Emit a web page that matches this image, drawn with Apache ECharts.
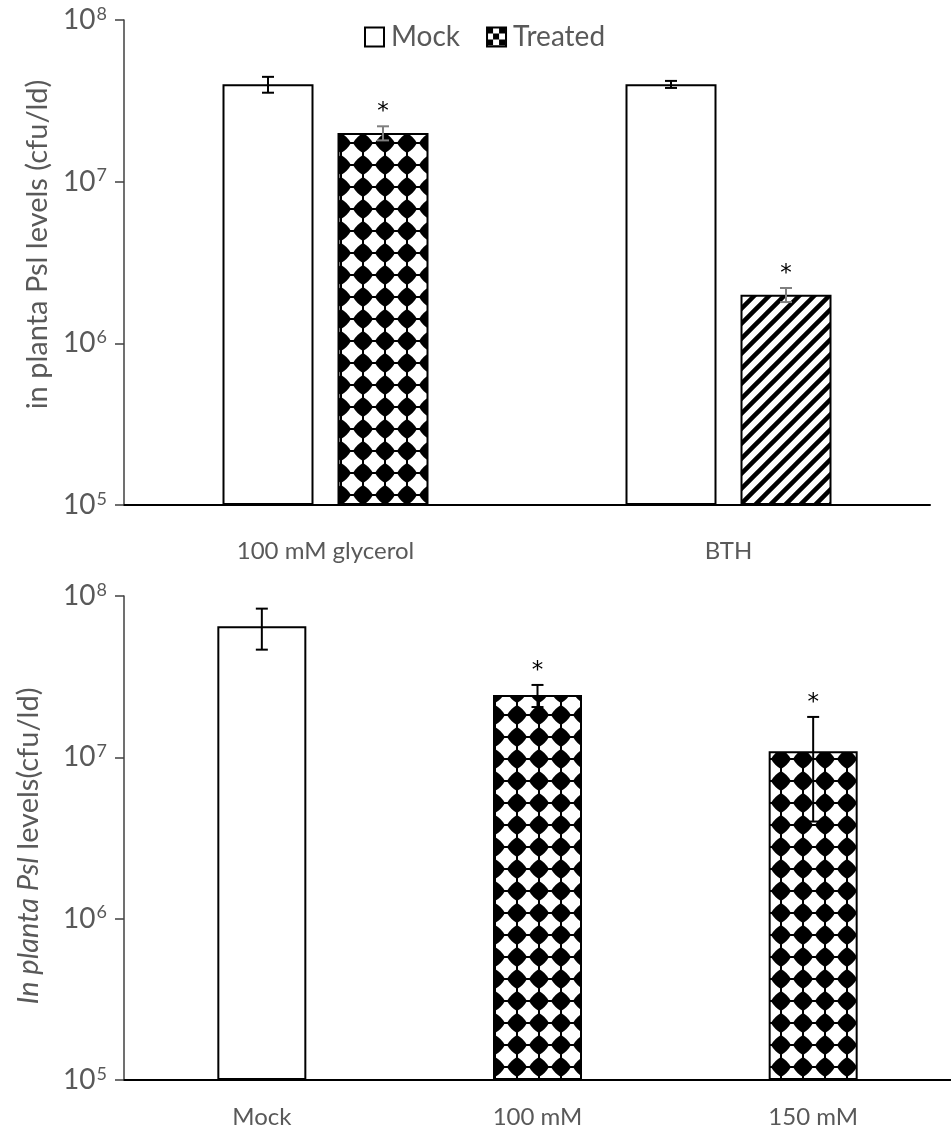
<!DOCTYPE html>
<html>
<head>
<meta charset="utf-8">
<script src="https://cdn.jsdelivr.net/npm/echarts@6/dist/echarts.min.js"></script>
<style>
html,body{margin:0;padding:0;background:#fff;}
#chart{width:951px;height:1137px;}
</style>
</head>
<body>
<div id="chart"></div>
<script>
// ---------- data ----------
const topCategories = ['100 mM glycerol', 'BTH'];
const legendNames = ['Mock', 'Treated'];
const mockValues = [4.0e7, 4.0e7];
const mockErrors = [4.5e6, 2.0e6];
const treatedValues = [2.0e7, 2.0e6];
const treatedErrors = [2.0e6, 2.0e5];
const treatedSignificant = [1, 1];
const bottomCategories = ['Mock', '100 mM', '150 mM'];
const bottomValues = [6.5e7, 2.43e7, 1.09e7];
const bottomErrors = [1.85e7, 3.8e6, 6.9e6];
const bottomSignificant = [0, 1, 1];
const yMin = 1e5;
const yMax = 1e8;
const topYTitle = 'in planta Psl levels (cfu/ld)';
const bottomYTitleItalic = 'In planta Psl';
const bottomYTitleRest = ' levels(cfu/ld)';

// ---------- patterns ----------
function makeCanvas(w, h) {
  const c = document.createElement('canvas');
  c.width = w; c.height = h;
  return c;
}
function diamondPattern() {
  const s = 22, m = 11, r = 10, b = 6.4, c = makeCanvas(s, s), g = c.getContext('2d');
  g.fillStyle = '#fff'; g.fillRect(0, 0, s, s);
  g.fillStyle = '#000';
  g.beginPath();
  g.moveTo(m, m - r);
  g.quadraticCurveTo(m + b, m - b, m + r, m);
  g.quadraticCurveTo(m + b, m + b, m, m + r);
  g.quadraticCurveTo(m - b, m + b, m - r, m);
  g.quadraticCurveTo(m - b, m - b, m, m - r);
  g.closePath(); g.fill();
  g.fillRect(10, 0, 2, 2); g.fillRect(10, 20, 2, 2);
  g.fillRect(0, 10, 2, 2); g.fillRect(20, 10, 2, 2);
  return c;
}
function stripePattern() {
  const s = 15, c = makeCanvas(s, s), g = c.getContext('2d');
  g.fillStyle = '#fff'; g.fillRect(0, 0, s, s);
  g.strokeStyle = '#000'; g.lineWidth = 4.5;
  g.beginPath();
  g.moveTo(-s, s); g.lineTo(s, -s);
  g.moveTo(0, 2 * s); g.lineTo(2 * s, 0);
  g.moveTo(-s, 2 * s); g.lineTo(2 * s, -s);
  g.stroke();
  return c;
}
function checkerPattern() {
  const s = 12, c = makeCanvas(s, s), g = c.getContext('2d');
  g.fillStyle = '#fff'; g.fillRect(0, 0, s, s);
  g.fillStyle = '#000';
  g.fillRect(0, 0, 6, 6); g.fillRect(6, 6, 6, 6);
  return c;
}
const diamond = { image: diamondPattern(), repeat: 'repeat' };
const stripes = { image: stripePattern(), repeat: 'repeat' };
const checker = { image: checkerPattern(), repeat: 'repeat' };

// ---------- styles ----------
const FONT = 'Lato';
const LABEL_COLOR = '#595959';
const TOP_BAR_W = 91, TOP_GAP = 24;
const BOT_BAR_W = 89;

function tickFormatter(v) {
  const e = Math.round(Math.log10(v));
  return '{b|10}{s|' + e + '}';
}
const tickRich = {
  b: { fontSize: 28, color: LABEL_COLOR, fontFamily: FONT },
  s: { fontSize: 18, color: LABEL_COLOR, fontFamily: FONT, verticalAlign: 'top', padding: [0, 0, 12, 1] }
};

function yAxisCfg(gridIndex, name, nameRich, nameGap, namePad) {
  return {
    type: 'log', gridIndex: gridIndex, logBase: 10, min: yMin, max: yMax, startValue: yMin,
    splitLine: { show: false },
    axisLine: { show: true, lineStyle: { color: '#404040', width: 1.5 } },
    axisTick: { show: true, inside: false, length: 9, lineStyle: { color: '#404040', width: 1.5 } },
    minorTick: { show: false },
    axisLabel: { formatter: tickFormatter, rich: tickRich, margin: 17 },
    name: name, nameLocation: 'middle', nameGap: nameGap, nameRotate: 90,
    nameTextStyle: { fontSize: 29, color: LABEL_COLOR, fontFamily: FONT, rich: nameRich, padding: namePad }
  };
}
function xAxisCfg(gridIndex, data, margin) {
  return {
    type: 'category', gridIndex: gridIndex, data: data,
    axisLine: { show: true, lineStyle: { color: '#000', width: 2 } },
    axisTick: { show: false },
    axisLabel: { fontSize: 24, color: LABEL_COLOR, fontFamily: FONT, margin: margin, interval: 0 },
    splitLine: { show: false }
  };
}

function errorRenderer(offsetPx, color, starOffset) {
  return function (params, api) {
    const i = api.value(0), v = api.value(1), e = api.value(2), sig = api.value(3);
    const top = api.coord([i, v + e]);
    const bot = api.coord([i, v - e]);
    const x = top[0] + offsetPx;
    const cap = 6;
    const st = { stroke: color, lineWidth: 2 };
    const children = [
      { type: 'line', shape: { x1: x, y1: top[1], x2: x, y2: bot[1] }, style: st },
      { type: 'line', shape: { x1: x - cap, y1: top[1], x2: x + cap, y2: top[1] }, style: st },
      { type: 'line', shape: { x1: x - cap, y1: bot[1], x2: x + cap, y2: bot[1] }, style: st }
    ];
    if (sig) {
      children.push({
        type: 'text',
        style: { text: '*', x: x, y: top[1] - starOffset, align: 'center', verticalAlign: 'middle',
                 font: '23px "DejaVu Sans"', fill: '#000' }
      });
    }
    return { type: 'group', children: children };
  };
}

const topOffset = (TOP_BAR_W + TOP_GAP) / 2;

const option = {
  backgroundColor: '#fff',
  animation: false,
  legend: {
    data: legendNames,
    left: 359, top: 18,
    itemWidth: 19, itemHeight: 19, itemGap: 26,
    textStyle: { fontSize: 28, color: LABEL_COLOR, fontFamily: FONT, padding: [0, 0, 0, 2] },
    icon: 'rect'
  },
  grid: [
    { left: 124, top: 20, width: 806, height: 485 },
    { left: 124, top: 596, width: 837, height: 484 }
  ],
  xAxis: [
    xAxisCfg(0, topCategories, 34),
    xAxisCfg(1, bottomCategories, 25)
  ],
  yAxis: [
    yAxisCfg(0, topYTitle, {}, 71, [0, 0, 0, 36]),
    yAxisCfg(1, '{i|' + bottomYTitleItalic + '}' + bottomYTitleRest,
      { i: { fontSize: 29, fontStyle: 'italic', color: LABEL_COLOR, fontFamily: FONT } }, 81, [0, 16, 0, 0])
  ],
  series: [
    {
      name: 'Mock', type: 'bar', xAxisIndex: 0, yAxisIndex: 0,
      barWidth: TOP_BAR_W, barGap: (TOP_GAP / TOP_BAR_W * 100) + '%',
      itemStyle: { color: '#fff', borderColor: '#000', borderWidth: 2 },
      data: mockValues
    },
    {
      name: 'Treated', type: 'bar', xAxisIndex: 0, yAxisIndex: 0,
      barWidth: TOP_BAR_W,
      itemStyle: { color: checker, borderColor: '#000', borderWidth: 2 },
      data: treatedValues.map(function (v, i) {
        return { value: v, itemStyle: { color: i === 0 ? diamond : stripes } };
      })
    },
    {
      name: 'err-mock', type: 'custom', xAxisIndex: 0, yAxisIndex: 0, z: 5,
      renderItem: errorRenderer(-topOffset, '#000', 14),
      data: mockValues.map(function (v, i) { return [i, v, mockErrors[i], 0]; })
    },
    {
      name: 'err-treated', type: 'custom', xAxisIndex: 0, yAxisIndex: 0, z: 5,
      renderItem: errorRenderer(topOffset, '#7f7f7f', 14),
      data: treatedValues.map(function (v, i) { return [i, v, treatedErrors[i], treatedSignificant[i]]; })
    },
    {
      name: 'levels', type: 'bar', xAxisIndex: 1, yAxisIndex: 1,
      barWidth: BOT_BAR_W,
      itemStyle: { color: '#fff', borderColor: '#000', borderWidth: 2 },
      data: bottomValues.map(function (v, i) {
        return i === 0 ? v : { value: v, itemStyle: { color: diamond } };
      })
    },
    {
      name: 'err-bottom', type: 'custom', xAxisIndex: 1, yAxisIndex: 1, z: 5,
      renderItem: errorRenderer(0, '#000', 14),
      data: bottomValues.map(function (v, i) { return [i, v, bottomErrors[i], bottomSignificant[i]]; })
    }
  ]
};

const chart = echarts.init(document.getElementById('chart'), null, { renderer: 'canvas' });
chart.setOption(option);
</script>
</body>
</html>
